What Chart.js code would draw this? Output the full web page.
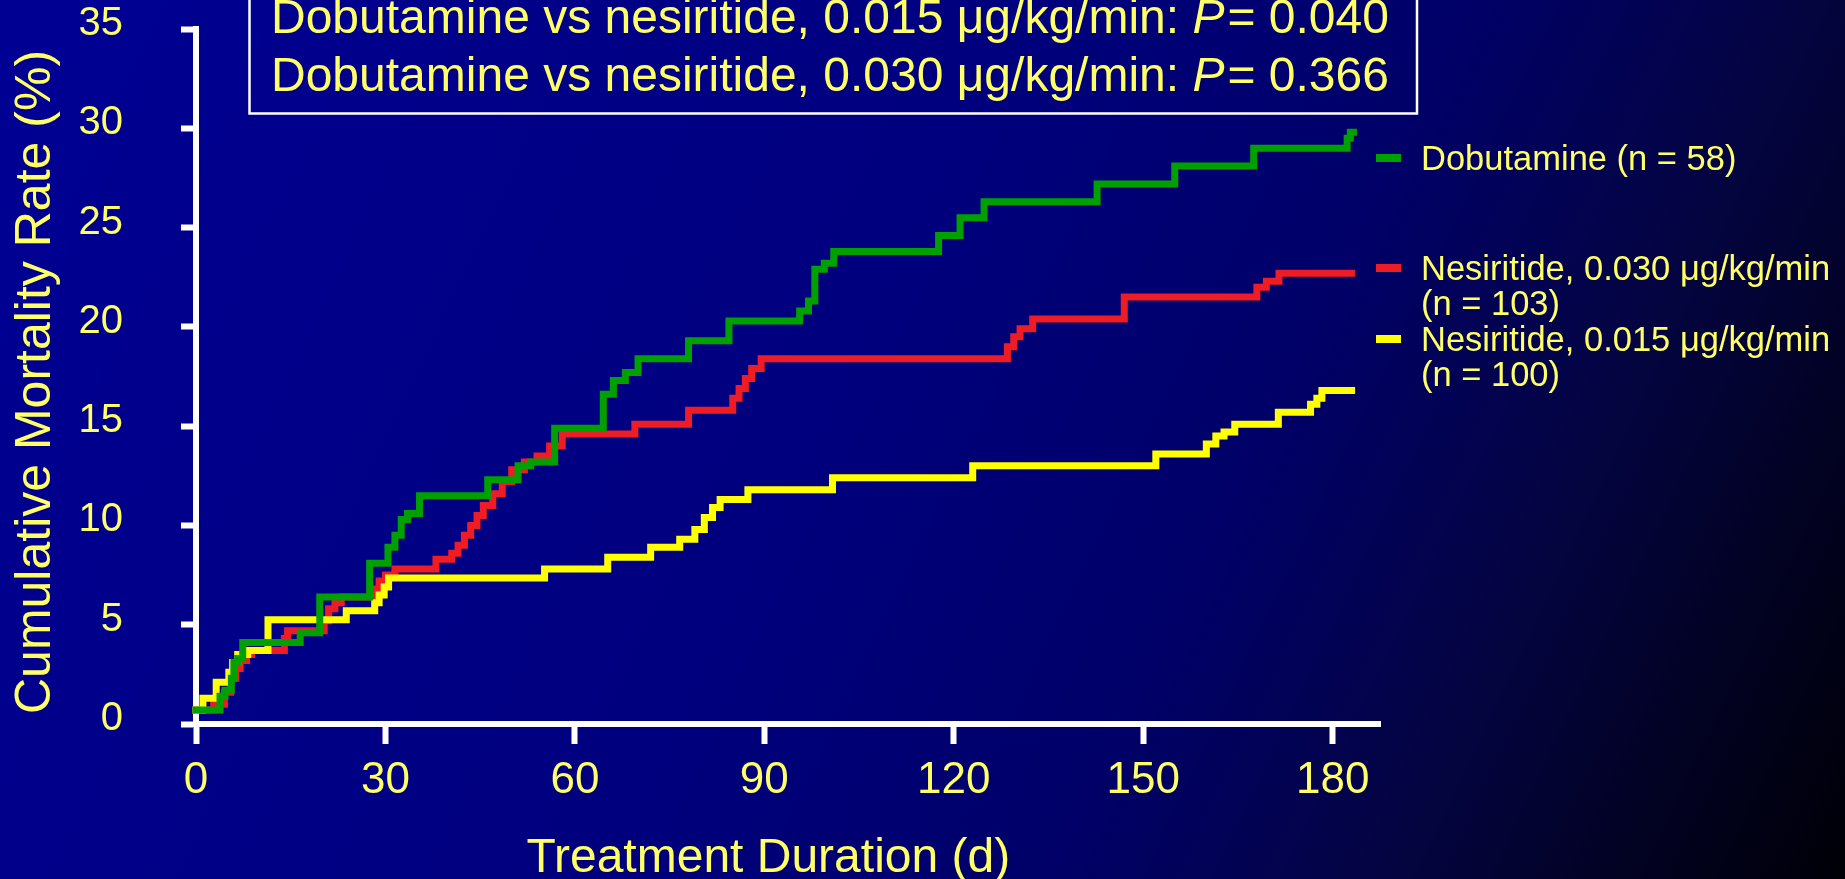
<!DOCTYPE html>
<html>
<head>
<meta charset="utf-8">
<title>Cumulative Mortality Rate</title>
<script src="https://cdn.jsdelivr.net/npm/chart.js@4.4.1/dist/chart.umd.min.js"></script>
<style>
  html, body { margin: 0; padding: 0; overflow: hidden; background: #000060; }
  canvas { display: block; }
</style>
</head>
<body>
<canvas id="kmChart" width="1845" height="879"></canvas>
<script>
// Step curves: day of each event and the cumulative mortality (%) after it
const dobutamineDays  = [0, 3.8, 4.6, 5.6, 6.0, 6.6, 7.4, 16.5, 19.6, 27.5, 30.4, 31.5, 32.5, 33.5, 35.4, 46.2, 51.0, 53.0, 56.8, 64.5, 66.1, 68.0, 70.0, 78.0, 84.4, 95.6, 97.0, 98.0, 99.5, 101.0, 117.6, 121.0, 124.8, 142.7, 155.0, 167.5, 182.3, 182.8, 183.3];
const dobutamineRates = [0.7, 1.4, 1.7, 2.3, 3.1, 3.3, 4.1, 4.6, 6.4, 8.1, 8.9, 9.5, 10.3, 10.6, 11.5, 12.3, 13.0, 13.2, 14.9, 16.6, 17.3, 17.7, 18.4, 19.3, 20.3, 20.8, 21.3, 22.9, 23.2, 23.8, 24.6, 25.5, 26.3, 27.2, 28.1, 29.0, 29.5, 29.8, 29.8];

const nes030Days  = [0, 2.8, 4.5, 5.5, 6.3, 7.0, 8.0, 8.8, 14.0, 14.5, 20.3, 21.0, 22.0, 23.0, 28.0, 29.0, 30.0, 31.5, 38.0, 40.5, 41.5, 42.5, 43.5, 44.5, 45.5, 47.0, 48.5, 50.0, 52.0, 54.0, 56.0, 58.0, 69.5, 78.0, 85.0, 86.0, 87.0, 88.0, 89.5, 128.5, 129.5, 130.5, 132.5, 147.0, 168.0, 169.5, 171.5, 183.0];
const nes030Rates = [0.7, 1.0, 1.6, 2.3, 2.8, 3.2, 3.5, 3.7, 4.3, 4.7, 5.2, 5.8, 6.1, 6.4, 6.8, 7.2, 7.5, 7.8, 8.3, 8.6, 9.0, 9.5, 10.0, 10.5, 11.0, 11.6, 12.2, 12.8, 13.2, 13.5, 14.0, 14.6, 15.1, 15.8, 16.4, 16.9, 17.4, 17.9, 18.4, 19.0, 19.5, 19.9, 20.4, 21.5, 22.0, 22.3, 22.7, 22.7];

const nes015Days  = [0, 1.1, 3.2, 5.2, 5.8, 6.6, 8.2, 11.4, 23.8, 28.3, 29.0, 29.8, 30.5, 55.2, 65.2, 72.0, 76.6, 79.0, 80.5, 81.8, 83.0, 87.4, 100.8, 123.0, 152.0, 160.0, 161.5, 162.8, 164.5, 171.4, 176.5, 177.5, 178.3, 183.0];
const nes015Rates = [0.7, 1.3, 2.1, 2.6, 3.1, 3.5, 3.7, 5.25, 5.7, 6.1, 6.5, 6.9, 7.35, 7.8, 8.4, 8.9, 9.3, 9.8, 10.4, 10.9, 11.3, 11.8, 12.4, 13.0, 13.6, 14.1, 14.5, 14.7, 15.1, 15.7, 16.1, 16.4, 16.8, 16.8];

const xTicks = [0, 30, 60, 90, 120, 150, 180];
const yTicks = [0, 5, 10, 15, 20, 25, 30, 35];

const legendLabels = [
    ['Dobutamine (n = 58)'],
    ['Nesiritide, 0.030 \u03bcg/kg/min', '(n = 103)'],
    ['Nesiritide, 0.015 \u03bcg/kg/min', '(n = 100)']
];
const pValueLines = [
    ['Dobutamine vs nesiritide, 0.015 \u03bcg/kg/min: ', 'P', '= 0.040'],
    ['Dobutamine vs nesiritide, 0.030 \u03bcg/kg/min: ', 'P', '= 0.366']
];
const xTitle = 'Treatment Duration (d)';
const yTitle = 'Cumulative Mortality Rate (%)';

const FONT = '"Liberation Sans", Arial, sans-serif';
const TEXT = '#FFFF66';
const GREEN = '#00A000';
const RED = '#EE1C24';
const YELLOW = '#FFFF00';

function toPoints(days, rates) {
    return days.map((d, i) => ({ x: d, y: rates[i] }));
}

// background, p-value box, legend and axis titles
const slideDecor = {
    id: 'slideDecor',
    beforeDraw(chart) {
        const ctx = chart.ctx;
        const w = chart.width, h = chart.height;
        const g = ctx.createLinearGradient(0, 0, w, h);
        g.addColorStop(0, 'rgb(0,0,148)');
        g.addColorStop(0.45, 'rgb(0,0,126)');
        g.addColorStop(0.65, 'rgb(0,0,104)');
        g.addColorStop(0.8, 'rgb(4,4,64)');
        g.addColorStop(1, 'rgb(0,0,6)');
        ctx.save();
        ctx.fillStyle = g;
        ctx.fillRect(0, 0, w, h);
        ctx.restore();
    },
    afterDraw(chart) {
        const ctx = chart.ctx;
        const xs = chart.scales.x;
        ctx.save();

        // p-value box
        ctx.strokeStyle = '#FFFFFF';
        ctx.lineWidth = 2.5;
        ctx.strokeRect(249.5, -10, 1167.5, 123.5);
        ctx.fillStyle = TEXT;
        ctx.textBaseline = 'alphabetic';
        ctx.textAlign = 'left';
        pValueLines.forEach((parts, row) => {
            let x = 271;
            const y = 33 + row * 57.7;
            parts.forEach((txt, j) => {
                ctx.font = (j === 1 ? 'italic ' : '') + '48px ' + FONT;
                ctx.fillText(txt, x, y);
                x += ctx.measureText(txt).width + (j === 1 ? 3 : 0);
            });
        });

        // legend
        const legendColors = [GREEN, RED, YELLOW];
        const legendY = [158, 268, 339];
        ctx.font = '34.5px ' + FONT;
        legendLabels.forEach((lines, i) => {
            ctx.fillStyle = legendColors[i];
            ctx.fillRect(1376, legendY[i] - 4, 25, 8);
            ctx.fillStyle = TEXT;
            lines.forEach((line, k) => {
                ctx.fillText(line, 1421, legendY[i] + 12 + k * 35);
            });
        });

        // axis titles
        ctx.font = '48px ' + FONT;
        ctx.textAlign = 'center';
        ctx.fillText(xTitle, xs.getPixelForValue(90) + 4, 872);
        ctx.font = '50px ' + FONT;
        ctx.translate(50, 382);
        ctx.rotate(-Math.PI / 2);
        ctx.fillText(yTitle, 0, 0);
        ctx.restore();
    }
};

const lineStyle = {
    borderWidth: 7,
    stepped: 'before',
    pointRadius: 0,
    fill: false,
    clip: false,
    borderCapStyle: 'square',
    borderJoinStyle: 'miter'
};

new Chart(document.getElementById('kmChart'), {
    type: 'line',
    data: {
        datasets: [
            Object.assign({ label: legendLabels[0].join(' '), data: toPoints(dobutamineDays, dobutamineRates), borderColor: GREEN, order: 0 }, lineStyle),
            Object.assign({ label: legendLabels[1].join(' '), data: toPoints(nes030Days, nes030Rates), borderColor: RED, order: 2 }, lineStyle),
            Object.assign({ label: legendLabels[2].join(' '), data: toPoints(nes015Days, nes015Rates), borderColor: YELLOW, order: 1 }, lineStyle)
        ]
    },
    options: {
        responsive: false,
        animation: false,
        layout: { padding: { left: 0, top: 29, right: 465, bottom: 0 } },
        plugins: {
            legend: { display: false },
            tooltip: { enabled: false }
        },
        scales: {
            x: {
                type: 'linear',
                min: 0,
                max: 187.5,
                afterBuildTicks: s => { s.ticks = xTicks.map(v => ({ value: v })); },
                afterFit: s => { s.height = 155; s.paddingLeft = 0; s.paddingRight = 0; },
                border: { display: true, color: '#FFFFFF', width: 6 },
                grid: { drawOnChartArea: false, drawTicks: true, tickLength: 20, tickWidth: 6, color: '#FFFFFF', tickColor: '#FFFFFF' },
                ticks: { color: TEXT, font: { family: FONT, size: 44 }, padding: 10, maxRotation: 0, autoSkip: false }
            },
            y: {
                type: 'linear',
                min: 0,
                max: 35,
                afterBuildTicks: s => { s.ticks = yTicks.map(v => ({ value: v })); },
                afterFit: s => { s.width = 196; s.paddingTop = 0; s.paddingBottom = 0; },
                border: { display: true, color: '#FFFFFF', width: 6 },
                grid: { drawOnChartArea: false, drawTicks: true, tickLength: 15, tickWidth: 6, color: '#FFFFFF', tickColor: '#FFFFFF' },
                ticks: { color: TEXT, font: { family: FONT, size: 40 }, padding: 58, labelOffset: -5, autoSkip: false }
            }
        }
    },
    plugins: [slideDecor]
});
</script>
</body>
</html>
